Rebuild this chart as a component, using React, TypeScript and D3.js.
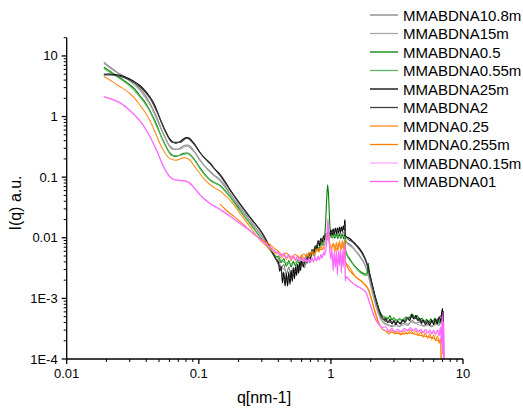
import React from 'react';
import * as d3 from 'd3';

type Pt = [number, number];

// q [nm-1], I(q)
const mmabdna108m: Pt[] = [
  [0.0191, 7.9], [0.0205, 7.0], [0.022, 6.2], [0.024, 5.4], [0.026, 4.9], [0.028, 4.45], [0.03, 4.0],
  [0.033, 3.45], [0.0358, 2.85], [0.039, 2.3], [0.0427, 1.65], [0.046, 1.2], [0.049, 0.88], [0.052, 0.63],
  [0.0555, 0.46], [0.059, 0.35], [0.063, 0.3], [0.067, 0.285], [0.072, 0.3], [0.077, 0.33], [0.0815, 0.34],
  [0.0858, 0.325], [0.092, 0.27], [0.1016, 0.195], [0.11, 0.155], [0.122, 0.125], [0.133, 0.105],
  [0.144, 0.092], [0.158, 0.072], [0.172, 0.054], [0.19, 0.04], [0.204, 0.032], [0.224, 0.025],
  [0.244, 0.0195], [0.265, 0.0155], [0.29, 0.0118], [0.315, 0.0092], [0.344, 0.0066], [0.37, 0.0052],
  [0.39, 0.0043], [0.4, 0.0044], [0.42, 0.0031], [0.44, 0.0036], [0.46, 0.0025], [0.48, 0.0033],
  [0.5, 0.0024], [0.52, 0.0033], [0.54, 0.0026], [0.56, 0.0036], [0.58, 0.0029], [0.6, 0.0039],
  [0.63, 0.0032], [0.66, 0.0045], [0.69, 0.0039], [0.72, 0.0056], [0.75, 0.0049], [0.78, 0.0068],
  [0.81, 0.006], [0.84, 0.0082], [0.87, 0.0074], [0.9, 0.0095], [0.93, 0.0088], [0.95, 0.0118],
  [0.97, 0.0094], [1.0, 0.0112], [1.03, 0.0098], [1.06, 0.0118], [1.09, 0.0101], [1.12, 0.0121],
  [1.15, 0.0104], [1.18, 0.0124], [1.21, 0.0106], [1.24, 0.0126], [1.27, 0.0112], [1.285, 0.0095],
  [1.3, 0.0088], [1.38, 0.0079], [1.46, 0.007], [1.56, 0.0059], [1.66, 0.005], [1.76, 0.0041],
  [1.86, 0.0031], [1.95, 0.0022], [2.03, 0.0015], [2.12, 0.001], [2.2, 0.00075], [2.3, 0.00056],
  [2.4, 0.00045], [2.5, 0.0004], [2.7, 0.00037], [2.9, 0.00034], [3.1, 0.00038], [3.3, 0.00034],
  [3.5, 0.00039], [3.8, 0.00036], [4.1, 0.00043], [4.4, 0.00039], [4.7, 0.00041], [5.0, 0.00035],
  [5.4, 0.00038], [5.8, 0.00034], [6.2, 0.00039], [6.6, 0.00036], [6.9, 0.00045], [7.1, 0.00032],
];

const mmabdna15m: Pt[] = [
  [0.0191, 7.5], [0.022, 6.0], [0.026, 4.7], [0.03, 3.85], [0.0358, 2.7], [0.0427, 1.55], [0.049, 0.82],
  [0.0555, 0.44], [0.063, 0.29], [0.072, 0.29], [0.0815, 0.325], [0.092, 0.26], [0.1016, 0.19],
  [0.122, 0.12], [0.144, 0.088], [0.172, 0.052], [0.204, 0.031], [0.244, 0.019], [0.29, 0.0115],
  [0.344, 0.0066], [0.39, 0.0042], [0.43, 0.0032], [0.47, 0.0027], [0.51, 0.0029], [0.56, 0.0033],
  [0.62, 0.0038], [0.7, 0.0049], [0.8, 0.0068], [0.9, 0.0088], [0.95, 0.011], [1.0, 0.0104],
  [1.1, 0.011], [1.2, 0.0112], [1.27, 0.0108], [1.285, 0.009], [1.3, 0.0085], [1.46, 0.0068],
  [1.66, 0.0048], [1.86, 0.003], [2.03, 0.0014], [2.2, 0.00072], [2.4, 0.00044], [2.7, 0.00036],
  [3.3, 0.00035], [4.1, 0.0004], [5.0, 0.00035], [6.0, 0.00036], [7.0, 0.0004],
];

const mmabdna05: Pt[] = [
  [0.0191, 6.5], [0.0205, 5.9], [0.022, 5.3], [0.024, 4.7], [0.026, 4.2], [0.028, 3.75], [0.03, 3.35],
  [0.033, 2.8], [0.0358, 2.2], [0.039, 1.75], [0.0427, 1.25], [0.046, 0.9], [0.049, 0.65], [0.052, 0.47],
  [0.0555, 0.35], [0.059, 0.27], [0.063, 0.23], [0.067, 0.22], [0.072, 0.232], [0.077, 0.248],
  [0.0815, 0.25], [0.0858, 0.238], [0.092, 0.2], [0.1016, 0.145], [0.11, 0.115], [0.122, 0.09],
  [0.133, 0.08], [0.144, 0.074], [0.158, 0.06], [0.172, 0.048], [0.19, 0.036], [0.204, 0.029],
  [0.224, 0.022], [0.244, 0.0174], [0.265, 0.0137], [0.29, 0.0104], [0.315, 0.0082], [0.344, 0.0064],
  [0.37, 0.0054], [0.39, 0.0048], [0.4, 0.005], [0.42, 0.0039], [0.44, 0.0045], [0.46, 0.0034],
  [0.48, 0.0042], [0.5, 0.0033], [0.52, 0.0041], [0.54, 0.0034], [0.56, 0.0043], [0.58, 0.0036],
  [0.6, 0.0046], [0.63, 0.0039], [0.66, 0.0052], [0.69, 0.0045], [0.72, 0.006], [0.75, 0.0054],
  [0.78, 0.0071], [0.81, 0.0064], [0.84, 0.0083], [0.87, 0.0078], [0.89, 0.0095], [0.91, 0.016],
  [0.93, 0.045], [0.945, 0.075], [0.96, 0.05], [0.975, 0.022], [0.99, 0.0125], [1.01, 0.0102],
  [1.04, 0.012], [1.07, 0.0098], [1.1, 0.0118], [1.13, 0.0097], [1.16, 0.0116], [1.19, 0.0097],
  [1.22, 0.0114], [1.25, 0.0096], [1.27, 0.0112], [1.285, 0.0068], [1.3, 0.0059], [1.38, 0.0046],
  [1.46, 0.0038], [1.56, 0.0032], [1.66, 0.0028], [1.76, 0.0026], [1.84, 0.0025], [1.89, 0.0027],
  [1.92, 0.0038], [1.95, 0.0027], [2.0, 0.0021], [2.08, 0.0015], [2.15, 0.0011], [2.25, 0.00078],
  [2.35, 0.0006], [2.45, 0.00052], [2.55, 0.00049], [2.7, 0.00046], [2.8, 0.00052], [2.9, 0.00044],
  [3.0, 0.00048], [3.15, 0.00042], [3.3, 0.00046], [3.5, 0.00043], [3.7, 0.00049], [3.9, 0.00047],
  [4.1, 0.00055], [4.3, 0.0005], [4.5, 0.00052], [4.7, 0.00044], [4.9, 0.00047], [5.1, 0.0004],
  [5.3, 0.00045], [5.5, 0.00039], [5.7, 0.00046], [5.9, 0.0004], [6.1, 0.00047], [6.3, 0.0004],
  [6.5, 0.00045], [6.7, 0.00039], [6.9, 0.00048], [7.05, 0.00042],
];

const mmabdna055m: Pt[] = [
  [0.0191, 6.2], [0.022, 5.1], [0.026, 4.05], [0.03, 3.2], [0.0358, 2.1], [0.0427, 1.2], [0.049, 0.62],
  [0.0555, 0.34], [0.063, 0.225], [0.072, 0.228], [0.0815, 0.245], [0.092, 0.195], [0.1016, 0.14],
  [0.122, 0.088], [0.144, 0.072], [0.172, 0.047], [0.204, 0.028], [0.244, 0.017], [0.29, 0.0102],
  [0.344, 0.0064], [0.39, 0.0048], [0.43, 0.0041], [0.47, 0.0038], [0.51, 0.0037], [0.56, 0.004],
  [0.62, 0.0043], [0.7, 0.0052], [0.8, 0.0068], [0.9, 0.0088], [0.945, 0.012], [1.0, 0.0105],
  [1.1, 0.0106], [1.2, 0.0105], [1.27, 0.0104], [1.285, 0.0064], [1.3, 0.0057], [1.46, 0.0037],
  [1.66, 0.0027], [1.84, 0.0024], [1.95, 0.0025], [2.08, 0.0014], [2.25, 0.00075], [2.45, 0.0005],
  [2.8, 0.00048], [3.3, 0.00044], [4.1, 0.0005], [5.0, 0.00043], [6.0, 0.00042], [7.0, 0.00044],
];

const mmabdna25m: Pt[] = [
  [0.0191, 5.0], [0.0205, 5.02], [0.022, 5.0], [0.024, 4.9], [0.026, 4.7], [0.028, 4.45], [0.03, 4.15],
  [0.033, 3.7], [0.0358, 3.25], [0.039, 2.7], [0.0427, 2.1], [0.046, 1.6], [0.049, 1.15], [0.052, 0.82],
  [0.0555, 0.6], [0.059, 0.46], [0.063, 0.385], [0.067, 0.365], [0.072, 0.385], [0.077, 0.43],
  [0.081, 0.45], [0.0858, 0.43], [0.092, 0.36], [0.1016, 0.26], [0.11, 0.21], [0.122, 0.17],
  [0.133, 0.135], [0.144, 0.112], [0.158, 0.085], [0.172, 0.063], [0.19, 0.046], [0.204, 0.037],
  [0.224, 0.028], [0.244, 0.022], [0.265, 0.0175], [0.29, 0.0136], [0.315, 0.0103], [0.344, 0.0071],
  [0.37, 0.0051], [0.39, 0.0042], [0.4, 0.004], [0.41, 0.0028], [0.42, 0.0034], [0.43, 0.0018],
  [0.44, 0.0027], [0.45, 0.0016], [0.46, 0.0026], [0.47, 0.0016], [0.48, 0.0027], [0.49, 0.0017],
  [0.5, 0.0029], [0.51, 0.0019], [0.52, 0.0031], [0.53, 0.0021], [0.54, 0.0033], [0.55, 0.0024],
  [0.56, 0.0036], [0.57, 0.0026], [0.58, 0.0039], [0.59, 0.0029], [0.6, 0.0042], [0.62, 0.0033],
  [0.64, 0.0048], [0.66, 0.0038], [0.68, 0.0056], [0.7, 0.0046], [0.72, 0.0064], [0.74, 0.0054],
  [0.76, 0.0074], [0.78, 0.0062], [0.8, 0.009], [0.82, 0.0074], [0.84, 0.0098], [0.86, 0.0084],
  [0.88, 0.0108], [0.9, 0.0092], [0.92, 0.0118], [0.94, 0.0102], [0.96, 0.0128], [0.98, 0.0108],
  [1.0, 0.0135], [1.02, 0.0112], [1.04, 0.014], [1.06, 0.0116], [1.08, 0.0145], [1.1, 0.0118],
  [1.12, 0.0146], [1.14, 0.012], [1.16, 0.015], [1.18, 0.0122], [1.2, 0.0152], [1.22, 0.0126],
  [1.24, 0.0158], [1.26, 0.0132], [1.27, 0.0185], [1.28, 0.0198], [1.285, 0.011], [1.3, 0.0106],
  [1.38, 0.0098], [1.46, 0.0088], [1.56, 0.0076], [1.66, 0.0065], [1.76, 0.0053], [1.86, 0.004],
  [1.95, 0.0028], [2.03, 0.0019], [2.12, 0.0013], [2.2, 0.00095], [2.3, 0.00068], [2.4, 0.00052],
  [2.5, 0.00045], [2.6, 0.00046], [2.7, 0.0004], [2.8, 0.00045], [2.9, 0.00038], [3.0, 0.00043],
  [3.1, 0.00037], [3.2, 0.00042], [3.35, 0.00038], [3.5, 0.00044], [3.65, 0.0004], [3.8, 0.00048],
  [3.95, 0.00043], [4.1, 0.00053], [4.25, 0.00046], [4.4, 0.00052], [4.55, 0.00043], [4.7, 0.00047],
  [4.85, 0.00039], [5.0, 0.00044], [5.2, 0.00037], [5.4, 0.00043], [5.6, 0.00036], [5.8, 0.00044],
  [6.0, 0.00037], [6.2, 0.00046], [6.4, 0.00038], [6.6, 0.00049], [6.8, 0.00042], [6.9, 0.00058],
  [7.0, 0.00068], [7.05, 0.00045], [7.1, 0.0006], [7.15, 0.00008],
];

const mmabdna2: Pt[] = [
  [0.0191, 4.85], [0.022, 4.85], [0.026, 4.55], [0.03, 4.0], [0.0358, 3.1], [0.0427, 2.0], [0.049, 1.1],
  [0.0555, 0.58], [0.063, 0.375], [0.072, 0.375], [0.081, 0.44], [0.092, 0.35], [0.1016, 0.255],
  [0.122, 0.165], [0.144, 0.108], [0.172, 0.061], [0.204, 0.036], [0.244, 0.0215], [0.29, 0.0133],
  [0.344, 0.007], [0.39, 0.0041], [0.42, 0.0029], [0.44, 0.0021], [0.46, 0.0019], [0.48, 0.0022],
  [0.5, 0.0021], [0.53, 0.0027], [0.56, 0.003], [0.6, 0.0036], [0.65, 0.0044], [0.7, 0.0054],
  [0.75, 0.0066], [0.8, 0.0082], [0.85, 0.0092], [0.9, 0.0104], [0.95, 0.0118], [1.0, 0.0122],
  [1.1, 0.013], [1.2, 0.0136], [1.26, 0.014], [1.28, 0.017], [1.285, 0.0106], [1.3, 0.0102],
  [1.46, 0.0085], [1.66, 0.0062], [1.86, 0.0038], [2.03, 0.0018], [2.2, 0.0009], [2.4, 0.0005],
  [2.7, 0.00041], [3.3, 0.0004], [4.1, 0.00049], [5.0, 0.00041], [6.0, 0.0004], [6.9, 0.00052],
  [7.1, 0.0005],
];

const mmdna025: Pt[] = [
  [0.0191, 4.6], [0.0205, 4.2], [0.022, 3.8], [0.024, 3.35], [0.026, 3.0], [0.028, 2.7], [0.03, 2.4],
  [0.033, 1.95], [0.0358, 1.55], [0.039, 1.2], [0.0427, 0.85], [0.046, 0.6], [0.049, 0.43], [0.052, 0.32],
  [0.0555, 0.25], [0.059, 0.21], [0.063, 0.195], [0.067, 0.19], [0.072, 0.2], [0.077, 0.21],
  [0.0815, 0.205], [0.0858, 0.19], [0.092, 0.155], [0.1016, 0.116], [0.11, 0.093], [0.122, 0.075],
  [0.133, 0.066], [0.144, 0.06], [0.158, 0.05], [0.172, 0.042], [0.19, 0.032], [0.204, 0.0254],
  [0.224, 0.0195], [0.244, 0.0152], [0.265, 0.0118], [0.29, 0.0092], [0.315, 0.0078], [0.344, 0.0066],
  [0.37, 0.0058], [0.39, 0.0054], [0.4, 0.0056], [0.42, 0.0046], [0.44, 0.0053], [0.46, 0.0044],
  [0.48, 0.005], [0.5, 0.0042], [0.52, 0.0049], [0.54, 0.0042], [0.56, 0.005], [0.58, 0.0043],
  [0.6, 0.0052], [0.63, 0.0045], [0.66, 0.0055], [0.69, 0.0048], [0.72, 0.006], [0.75, 0.0052],
  [0.78, 0.0066], [0.81, 0.0058], [0.84, 0.0072], [0.87, 0.0064], [0.9, 0.0078], [0.93, 0.0094],
  [0.95, 0.0118], [0.97, 0.0085], [0.99, 0.0072], [1.01, 0.0064], [1.04, 0.0082], [1.07, 0.0058],
  [1.1, 0.0084], [1.13, 0.006], [1.16, 0.0088], [1.19, 0.0062], [1.22, 0.009], [1.25, 0.0064],
  [1.27, 0.0094], [1.285, 0.0042], [1.3, 0.0039], [1.38, 0.0033], [1.46, 0.0027], [1.56, 0.0022],
  [1.66, 0.002], [1.76, 0.0018], [1.86, 0.0016], [1.93, 0.0014], [2.0, 0.0011], [2.08, 0.00078],
  [2.16, 0.00058], [2.25, 0.00044], [2.35, 0.00036], [2.45, 0.00031], [2.6, 0.00029], [2.75, 0.00026],
  [2.9, 0.0003], [3.05, 0.00026], [3.2, 0.00029], [3.4, 0.00025], [3.6, 0.00029], [3.8, 0.00026],
  [4.0, 0.0003], [4.2, 0.00026], [4.4, 0.00029], [4.6, 0.00025], [4.8, 0.00028], [5.0, 0.00023],
  [5.2, 0.00027], [5.4, 0.00022], [5.6, 0.00026], [5.8, 0.00021], [6.0, 0.00025], [6.2, 0.0002],
  [6.4, 0.00024], [6.6, 0.00018], [6.75, 0.00022], [6.85, 0.00008],
];

const mmdna0255m: Pt[] = [
  [0.145, 0.036], [0.16, 0.029], [0.18, 0.0235], [0.2, 0.0195], [0.22, 0.0163], [0.24, 0.0135],
  [0.26, 0.0115], [0.29, 0.0097], [0.32, 0.0085], [0.344, 0.0078], [0.37, 0.0068], [0.4, 0.006],
  [0.43, 0.0052], [0.46, 0.0056], [0.5, 0.0048], [0.54, 0.0053], [0.58, 0.0047], [0.62, 0.0054],
  [0.66, 0.005], [0.7, 0.0058], [0.75, 0.0055], [0.8, 0.0066], [0.85, 0.0064], [0.9, 0.0076],
  [0.95, 0.0105], [1.0, 0.007], [1.05, 0.0078], [1.1, 0.0065], [1.15, 0.008], [1.2, 0.0066],
  [1.27, 0.0085], [1.285, 0.004], [1.3, 0.0037], [1.5, 0.0024], [1.75, 0.0018], [1.93, 0.00135],
  [2.1, 0.00075], [2.3, 0.0004], [2.5, 0.0003], [3.0, 0.00027], [3.5, 0.00026], [4.0, 0.00027],
  [4.5, 0.00025], [5.0, 0.00024], [5.5, 0.00023], [6.0, 0.00022], [6.5, 0.0002], [6.8, 0.0002],
  [6.85, 0.00006],
];

const mmabdna015m: Pt[] = [
  [0.0191, 2.1], [0.022, 1.9], [0.026, 1.6], [0.03, 1.24], [0.0358, 0.84], [0.0427, 0.46], [0.049, 0.245],
  [0.0555, 0.132], [0.063, 0.093], [0.072, 0.087], [0.0815, 0.083], [0.092, 0.066], [0.1016, 0.051],
  [0.122, 0.036], [0.144, 0.029], [0.172, 0.0225], [0.204, 0.017], [0.244, 0.013], [0.29, 0.0094],
  [0.344, 0.007], [0.39, 0.0056], [0.43, 0.005], [0.47, 0.0048], [0.51, 0.0046], [0.56, 0.0044],
  [0.62, 0.0042], [0.7, 0.0042], [0.8, 0.0045], [0.88, 0.0054], [0.95, 0.016], [1.0, 0.0048],
  [1.05, 0.004], [1.1, 0.0046], [1.15, 0.0038], [1.2, 0.0045], [1.27, 0.0062], [1.285, 0.002],
  [1.3, 0.0022], [1.46, 0.0018], [1.66, 0.0015], [1.86, 0.0012], [2.0, 0.00074], [2.16, 0.00046],
  [2.35, 0.00035], [2.75, 0.00029], [3.4, 0.00029], [4.0, 0.00031], [5.0, 0.00028], [6.0, 0.00027],
  [6.8, 0.0003], [7.0, 0.00015], [7.1, 0.0004],
];

const mmabdna01: Pt[] = [
  [0.0191, 2.15], [0.0205, 2.05], [0.022, 1.95], [0.024, 1.8], [0.026, 1.65], [0.028, 1.45], [0.03, 1.28],
  [0.033, 1.05], [0.0358, 0.86], [0.039, 0.66], [0.0427, 0.47], [0.046, 0.34], [0.049, 0.25], [0.052, 0.18],
  [0.0555, 0.135], [0.059, 0.108], [0.063, 0.095], [0.067, 0.09], [0.072, 0.089], [0.077, 0.088],
  [0.0815, 0.085], [0.0858, 0.08], [0.092, 0.068], [0.1016, 0.052], [0.11, 0.044], [0.122, 0.037],
  [0.133, 0.033], [0.144, 0.03], [0.158, 0.026], [0.172, 0.023], [0.19, 0.0195], [0.204, 0.0175],
  [0.224, 0.0152], [0.244, 0.0132], [0.265, 0.0114], [0.29, 0.0096], [0.315, 0.0083], [0.344, 0.0071],
  [0.37, 0.0062], [0.39, 0.0057], [0.4, 0.0058], [0.42, 0.005], [0.44, 0.0056], [0.46, 0.0047],
  [0.48, 0.0053], [0.5, 0.0045], [0.52, 0.0051], [0.54, 0.0043], [0.56, 0.0049], [0.58, 0.0041],
  [0.6, 0.0048], [0.62, 0.004], [0.64, 0.0047], [0.66, 0.0039], [0.68, 0.0046], [0.7, 0.0039],
  [0.72, 0.0047], [0.74, 0.004], [0.76, 0.0049], [0.78, 0.0041], [0.8, 0.005], [0.82, 0.0043],
  [0.84, 0.0053], [0.86, 0.0046], [0.88, 0.0058], [0.9, 0.0052], [0.92, 0.0068], [0.935, 0.011],
  [0.95, 0.021], [0.965, 0.011], [0.98, 0.0062], [1.0, 0.0045], [1.02, 0.0065], [1.04, 0.0028],
  [1.06, 0.0058], [1.08, 0.0032], [1.1, 0.0062], [1.12, 0.0024], [1.14, 0.006], [1.16, 0.0035],
  [1.18, 0.0064], [1.2, 0.0026], [1.22, 0.0062], [1.24, 0.0033], [1.26, 0.0068], [1.275, 0.0078],
  [1.285, 0.0019], [1.3, 0.0023], [1.38, 0.002], [1.46, 0.0018], [1.56, 0.0016], [1.66, 0.0015],
  [1.76, 0.0014], [1.86, 0.0012], [1.93, 0.00095], [2.0, 0.00075], [2.08, 0.00058], [2.16, 0.00047],
  [2.25, 0.0004], [2.35, 0.00036], [2.45, 0.00033], [2.6, 0.00034], [2.75, 0.00029], [2.9, 0.00032],
  [3.05, 0.00028], [3.2, 0.00031], [3.4, 0.00028], [3.6, 0.00032], [3.8, 0.00029], [4.0, 0.00033],
  [4.2, 0.00029], [4.4, 0.00032], [4.6, 0.00028], [4.8, 0.00031], [5.0, 0.00027], [5.2, 0.00031],
  [5.4, 0.00027], [5.6, 0.0003], [5.8, 0.00026], [6.0, 0.0003], [6.2, 0.00025], [6.4, 0.0003],
  [6.6, 0.00024], [6.75, 0.00034], [6.85, 0.00018], [6.95, 0.0005], [7.0, 0.00012], [7.05, 0.0006],
  [7.1, 0.00009], [7.15, 0.0004], [7.2, 0.0001],
];

const seriesNames = [
  'MMABDNA10.8m', 'MMABDNA15m', 'MMABDNA0.5', 'MMABDNA0.55m', 'MMABDNA25m',
  'MMABDNA2', 'MMDNA0.25', 'MMDNA0.255m', 'MMABDNA0.15m', 'MMABDNA01',
];
const seriesData = [
  mmabdna108m, mmabdna15m, mmabdna05, mmabdna055m, mmabdna25m,
  mmabdna2, mmdna025, mmdna0255m, mmabdna015m, mmabdna01,
];
const seriesColors = [
  '#808080', '#a8a8a8', '#008000', '#5cb85c', '#000000',
  '#404040', '#ff8c1a', '#ff8000', '#ffa6ff', '#ff66ff',
];

const xTickValues = [0.01, 0.1, 1, 10];
const xTickLabels = ['0.01', '0.1', '1', '10'];
const yTickValues = [1e-4, 1e-3, 0.01, 0.1, 1, 10];
const yTickLabels = ['1E-4', '1E-3', '0.01', '0.1', '1', '10'];

const W = 523;
const H = 412;
const left = 66.7;
const right = 463;
const top = 37.7;
const bottom = 359;
const font = 'Arial, "Liberation Sans", sans-serif';

export default function App() {
  const x = d3.scaleLog().domain([0.01, 10]).range([left, right]);
  const y = d3.scaleLog().domain([1e-4, 20]).range([bottom, top]);

  const line = d3
    .line<Pt>()
    .x((d) => x(d[0]))
    .y((d) => y(d[1]))
    .curve(d3.curveMonotoneX);

  const xMinor: number[] = [];
  for (let e = -2; e < 1; e++) for (let m = 2; m <= 9; m++) xMinor.push(m * Math.pow(10, e));
  const yMinor: number[] = [];
  for (let e = -4; e < 2; e++) for (let m = 2; m <= 9; m++) {
    const v = m * Math.pow(10, e);
    if (v <= 20) yMinor.push(v);
  }

  return (
    <svg
      width={W}
      height={H}
      style={{ position: 'absolute', left: 0, top: 0, background: '#fff' }}
      fontFamily={font}
    >
      <defs>
        <clipPath id="plot">
          <rect x={left} y={top} width={right - left} height={bottom - top} />
        </clipPath>
      </defs>

      <g clipPath="url(#plot)" fill="none" strokeWidth={1.1} strokeLinejoin="round">
        {seriesData.map((data, i) => (
          <path key={seriesNames[i]} d={line(data) ?? ''} stroke={seriesColors[i]} />
        ))}
      </g>

      {/* axes */}
      <g stroke="#000" strokeWidth={1.3}>
        <line x1={left} x2={right} y1={bottom} y2={bottom} />
        <line x1={left} x2={left} y1={top} y2={bottom} />
        {xTickValues.map((v) => (
          <line key={`xt${v}`} x1={x(v)} x2={x(v)} y1={bottom} y2={bottom + 5} />
        ))}
        {xMinor.map((v) => (
          <line key={`xm${v}`} x1={x(v)} x2={x(v)} y1={bottom} y2={bottom + 3} strokeWidth={1} />
        ))}
        {yTickValues.map((v) => (
          <line key={`yt${v}`} x1={left - 5} x2={left} y1={y(v)} y2={y(v)} />
        ))}
        {yMinor.map((v) => (
          <line key={`ym${v}`} x1={left - 3} x2={left} y1={y(v)} y2={y(v)} strokeWidth={1} />
        ))}
      </g>

      <g fontSize={13} fill="#000">
        {xTickValues.map((v, i) => (
          <text key={`xl${v}`} x={x(v)} y={bottom + 19} textAnchor="middle">
            {xTickLabels[i]}
          </text>
        ))}
        {yTickValues.map((v, i) => (
          <text key={`yl${v}`} x={left - 9} y={y(v) + 4.5} textAnchor="end">
            {yTickLabels[i]}
          </text>
        ))}
      </g>

      <text x={264} y={403} fontSize={16} textAnchor="middle">
        q[nm-1]
      </text>
      <text transform="translate(21,203) rotate(-90)" fontSize={16} textAnchor="middle">
        I(q) a.u.
      </text>

      {/* legend */}
      <g>
        {seriesNames.map((name, i) => {
          const ly = 15 + i * 18.5;
          return (
            <g key={name}>
              <line x1={370} x2={398} y1={ly} y2={ly} stroke={seriesColors[i]} strokeWidth={1.3} />
              <text x={403} y={ly + 5.5} fontSize={15} fill="#000">
                {name}
              </text>
            </g>
          );
        })}
      </g>
    </svg>
  );
}
